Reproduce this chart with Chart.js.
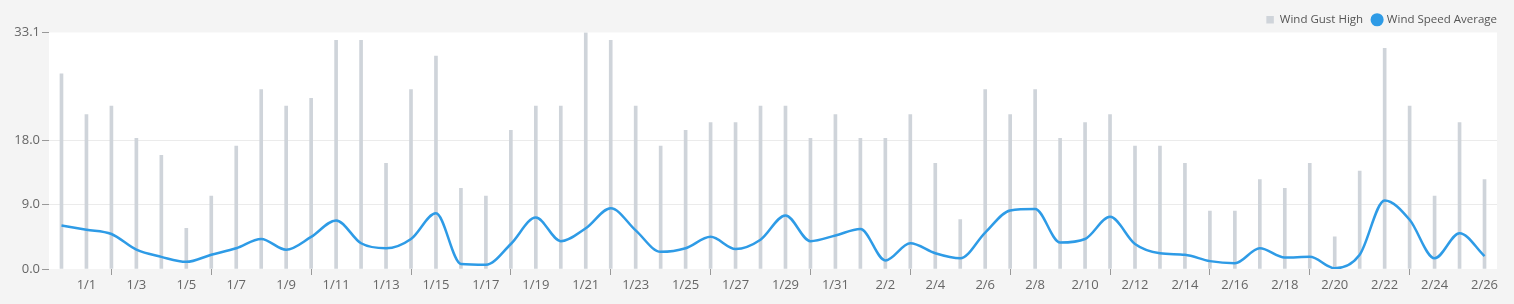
<!DOCTYPE html>
<html>
<head>
<meta charset="utf-8">
<script src="https://cdn.jsdelivr.net/npm/chart.js@4/dist/chart.umd.min.js"></script>
<style>
  html, body { margin: 0; padding: 0; background: #f4f4f4; }
  #wrap { width: 1514px; height: 304px; }
</style>
</head>
<body>
<div id="wrap"><canvas id="windChart"></canvas></div>
<script>
const days = ['12/31',
  '1/1','1/2','1/3','1/4','1/5','1/6','1/7','1/8','1/9','1/10',
  '1/11','1/12','1/13','1/14','1/15','1/16','1/17','1/18','1/19','1/20',
  '1/21','1/22','1/23','1/24','1/25','1/26','1/27','1/28','1/29','1/30','1/31',
  '2/1','2/2','2/3','2/4','2/5','2/6','2/7','2/8','2/9','2/10',
  '2/11','2/12','2/13','2/14','2/15','2/16','2/17','2/18','2/19','2/20',
  '2/21','2/22','2/23','2/24','2/25','2/26'];

const gustHigh = [27.3,
  21.6, 22.8, 18.3, 15.9, 5.7, 10.2, 17.2, 25.1, 22.8, 23.9,
  32.0, 32.0, 14.8, 25.1, 29.8, 11.3, 10.2, 19.4, 22.8, 22.8,
  33.1, 32.0, 22.8, 17.2, 19.4, 20.5, 20.5, 22.8, 22.8, 18.3, 21.6,
  18.3, 18.3, 21.6, 14.8, 6.9, 25.1, 21.6, 25.1, 18.3, 20.5,
  21.6, 17.2, 17.2, 14.8, 8.1, 8.1, 12.5, 11.3, 14.8, 4.5,
  13.7, 30.9, 22.8, 10.2, 20.5, 12.5];

const speedAvg = [6.1,
  5.5, 4.9, 2.7, 1.7, 1.0, 2.0, 2.9, 4.2, 2.7, 4.5,
  6.8, 3.6, 2.9, 4.2, 7.8, 0.7, 0.6, 3.5, 7.2, 3.9,
  5.7, 8.5, 5.4, 2.4, 2.9, 4.5, 2.8, 4.1, 7.5, 3.9, 4.7,
  5.6, 1.2, 3.6, 2.2, 1.5, 5.1, 8.2, 8.4, 3.7, 4.2,
  7.3, 3.5, 2.2, 2.0, 1.1, 0.8, 2.9, 1.6, 1.7, 0.1,
  2.0, 9.6, 6.9, 1.5, 5.0, 1.8];

const yTicks = [0, 9, 18, 33.1];

// white plot area on grey page
const plotBg = {
  id: 'plotBg',
  beforeDraw(chart) {
    const a = chart.chartArea;
    const c = chart.ctx;
    c.save();
    c.fillStyle = '#ffffff';
    c.fillRect(a.left, a.top, a.right - a.left, a.bottom - a.top);
    c.restore();
  }
};

// nudge legend to the right edge and a bit lower
const legendShift = {
  id: 'legendShift',
  afterLayout(chart) {
    const lg = chart.legend;
    if (!lg) return;
    lg.left += 10; lg.right += 10;
    lg.top += 3; lg.bottom += 3;
  }
};

Chart.defaults.font.family = '"Open Sans", sans-serif';

new Chart(document.getElementById('windChart'), {
  data: {
    labels: days,
    datasets: [
      {
        type: 'line',
        label: 'Wind Speed Average',
        data: speedAvg,
        borderColor: '#2e9be6',
        backgroundColor: '#2e9be6',
        borderWidth: 2.5,
        pointRadius: 0,
        pointStyle: 'circle',
        cubicInterpolationMode: 'monotone',
        order: 1
      },
      {
        type: 'bar',
        label: 'Wind Gust High',
        data: gustHigh,
        backgroundColor: '#cfd4da',
        barThickness: 3,
        pointStyle: 'rect',
        order: 2
      }
    ]
  },
  options: {
    responsive: true,
    maintainAspectRatio: false,
    animation: false,
    layout: { padding: { right: 17, top: 1 } },
    plugins: {
      legend: {
        align: 'end',
        reverse: true,
        labels: {
          usePointStyle: true,
          boxWidth: 8,
          boxHeight: 7.5,
          padding: 10,
          color: '#555',
          font: { size: 11.5 }
        }
      },
      tooltip: { enabled: false }
    },
    scales: {
      x: {
        offset: true,
        grid: {
          display: true,
          drawOnChartArea: false,
          tickLength: 6,
          tickColor: ctx => (ctx.index % 2 === 1 ? '#999' : 'rgba(0,0,0,0)')
        },
        border: { display: false },
        ticks: {
          autoSkip: false,
          maxRotation: 0,
          color: '#666',
          font: { size: 13 },
          padding: 2,
          callback: function (v, i) { return i % 2 === 1 ? this.getLabelForValue(v) : null; }
        },
        afterFit: s => { s.height = 35; }
      },
      y: {
        min: 0,
        max: 33.1,
        afterBuildTicks: s => { s.ticks = yTicks.map(v => ({ value: v })); },
        grid: {
          color: ctx => (ctx.tick && ctx.tick.value > 0 && ctx.tick.value < 33.1 ? '#ebebeb' : 'rgba(0,0,0,0)'),
          tickColor: '#999',
          tickLength: 7
        },
        border: { display: false },
        ticks: {
          color: '#666',
          font: { size: 13 },
          padding: 2,
          callback: v => Number(v).toFixed(1)
        },
        afterFit: s => { s.width = 49; }
      }
    }
  },
  plugins: [plotBg, legendShift]
});
</script>
</body>
</html>
